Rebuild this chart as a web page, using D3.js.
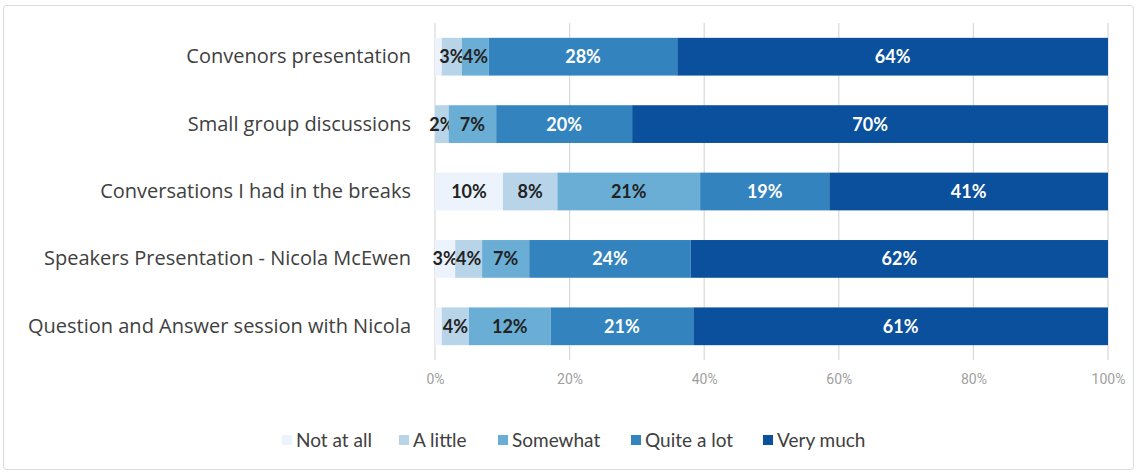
<!DOCTYPE html>
<html>
<head>
<meta charset="utf-8">
<script src="https://cdn.jsdelivr.net/npm/d3@7"></script>
<style>
  body { margin: 0; background: #fff; }
  svg { display: block; font-family: Lato, "Open Sans", sans-serif; }
</style>
</head>
<body>
<script>
// categories top to bottom
const categories = [
  "Convenors presentation",
  "Small group discussions",
  "Conversations I had in the breaks",
  "Speakers Presentation - Nicola McEwen",
  "Question and Answer session with Nicola"
];

const seriesNames = ["Not at all", "A little", "Somewhat", "Quite a lot", "Very much"];

// percentages
const notAtAll  = [1, 0, 10, 3, 1];
const aLittle   = [3, 2, 8, 4, 4];
const somewhat  = [4, 7, 21, 7, 12];
const quiteALot = [28, 20, 19, 24, 21];
const veryMuch  = [64, 70, 41, 62, 61];

const xTicks = [0, 0.2, 0.4, 0.6, 0.8, 1];

const colors = ["#edf3fc", "#b8d4e8", "#6aaed6", "#3283be", "#0a509d"];
const labelColors = ["#222", "#222", "#222", "#fff", "#fff"];

const W = 1137, H = 473;
let margin = {top: 23, left: 435, right: 29, bottom: 113};
let width = W - margin.left - margin.right;
let height = H - margin.top - margin.bottom;

// table built from the arrays
const rows = categories.map((c, i) => ({
  category: c,
  "Not at all": notAtAll[i],
  "A little": aLittle[i],
  "Somewhat": somewhat[i],
  "Quite a lot": quiteALot[i],
  "Very much": veryMuch[i]
}));

const svg = d3.select("body").append("svg")
  .attr("width", W)
  .attr("height", H);

// outer frame
svg.append("rect")
  .attr("x", 3.5).attr("y", 5.5)
  .attr("width", W - 7).attr("height", H - 9)
  .attr("rx", 3)
  .attr("fill", "#fff")
  .attr("stroke", "#d9d9d9");

const g = svg.append("g")
  .attr("transform", `translate(${margin.left}, ${margin.top})`);

const x = d3.scaleLinear().domain([0, 1]).range([0, width]);
const y = d3.scaleBand().domain(categories).range([0, height]).paddingInner(0.44).paddingOuter(0.22);

// gridlines
g.append("g")
  .selectAll("line")
  .data(xTicks)
  .enter().append("line")
    .attr("x1", d => x(d)).attr("x2", d => x(d))
    .attr("y1", 0).attr("y2", height)
    .attr("stroke", "#d9d9d9")
    .attr("stroke-width", 1.2);

// x axis tick labels
const xAxis = g.append("g")
  .attr("transform", `translate(0, ${height})`)
  .call(d3.axisBottom(x).tickValues(xTicks).tickFormat(d3.format(".0%")).tickSize(0).tickPadding(14));
xAxis.select(".domain").remove();
xAxis.selectAll("text")
  .attr("fill", "#a0a0a0")
  .style("font-size", "14px")
  .style("font-family", "'Liberation Sans Narrow', 'Roboto', sans-serif");

// category axis
const yAxis = g.append("g")
  .call(d3.axisLeft(y).tickSize(0).tickPadding(24));
yAxis.select(".domain").remove();
yAxis.selectAll("text")
  .attr("fill", "#404040")
  .style("font-family", "'Open Sans', Lato, sans-serif")
  .style("font-size", "20px");

// stacked bars, each row normalised to 100%
const stacked = d3.stack()
  .keys(seriesNames)
  .offset(d3.stackOffsetExpand)(rows);

const layers = g.append("g")
  .selectAll("g")
  .data(stacked)
  .enter().append("g")
    .attr("fill", (d, i) => colors[i]);

layers.selectAll("rect")
  .data(d => d)
  .enter().append("rect")
    .attr("x", d => x(d[0]))
    .attr("y", d => y(d.data.category))
    .attr("width", d => x(d[1]) - x(d[0]))
    .attr("height", y.bandwidth());

// data labels
layers.each(function(layer, li) {
  d3.select(this).selectAll("text")
    .data(layer.filter(d => d.data[layer.key] >= 2))
    .enter().append("text")
      .attr("x", d => (x(d[0]) + x(d[1])) / 2)
      .attr("y", d => y(d.data.category) + y.bandwidth() / 2)
      .attr("dy", "0.36em")
      .attr("text-anchor", "middle")
      .attr("fill", labelColors[li])
      .style("font-size", "18px")
      .style("font-weight", "bold")
      .text(d => d.data[layer.key] + "%");
});

// legend
const legendX = [282, 399, 498, 631, 763];
const legend = svg.append("g")
  .attr("transform", "translate(0, 440)")
  .selectAll("g")
  .data(seriesNames)
  .enter().append("g")
    .attr("transform", (d, i) => `translate(${legendX[i]}, 0)`);

legend.append("rect")
  .attr("x", 0).attr("y", -5)
  .attr("width", 10).attr("height", 10)
  .attr("fill", (d, i) => colors[i]);

legend.append("text")
  .attr("x", 14)
  .attr("dy", "0.35em")
  .attr("fill", "#404040")
  .style("font-size", "19px")
  .text(d => d);
</script>
</body>
</html>
